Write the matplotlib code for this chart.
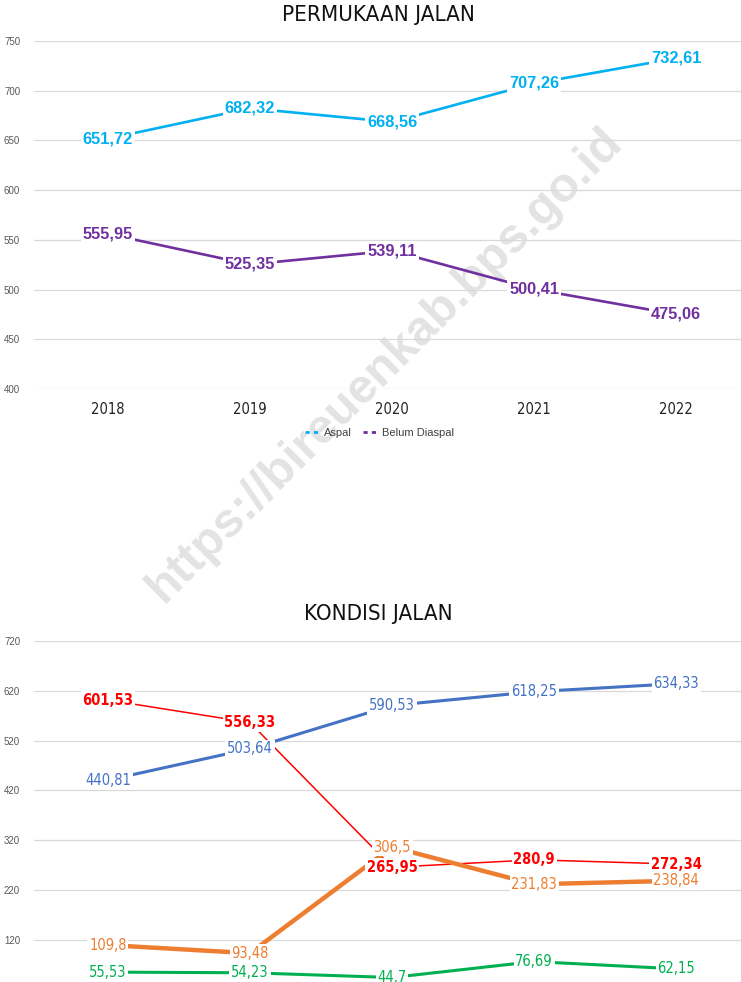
import matplotlib
matplotlib.use("Agg")
import matplotlib.pyplot as plt

years = ["2018", "2019", "2020", "2021", "2022"]
aspal = [651.72, 682.32, 668.56, 707.26, 732.61]
belum = [555.95, 525.35, 539.11, 500.41, 475.06]

baik = [440.81, 503.64, 590.53, 618.25, 634.33]
sedang = [601.53, 556.33, 265.95, 280.9, 272.34]
rusak = [109.8, 93.48, 306.5, 231.83, 238.84]
rusak_berat = [55.53, 54.23, 44.7, 76.69, 62.15]

top_ticks = [400, 450, 500, 550, 600, 650, 700, 750]
bot_ticks = [120, 220, 320, 420, 520, 620, 720]

NARROW = ["DejaVu Sans"]
SANS = ["Liberation Sans", "DejaVu Sans"]

def fmt(v):
    s = f"{v:.2f}".rstrip("0").rstrip(".")
    return s.replace(".", ",")

W, H = 741, 982
fig = plt.figure(figsize=(W / 100, H / 100), dpi=100)
fig.patch.set_facecolor("white")

def style_axes(ax, ticks):
    ax.set_facecolor("none")
    for sp in ax.spines.values():
        sp.set_visible(False)
    ax.set_yticks(ticks)
    ax.set_yticklabels([str(t) for t in ticks], fontsize=7, color="#595959",
                       family=SANS)
    ax.tick_params(axis="y", length=0, pad=10)
    ax.grid(axis="y", color="#d9d9d9", linewidth=0.9)
    ax.set_axisbelow(True)
    ax.set_xlim(-0.52, 4.456)

x = list(range(len(years)))

# ---------- Top chart ----------
left = 34 / W
width = (741 - 34) / W
ax1 = fig.add_axes([left, 1 - 389 / H, width, (389 - 41) / H])
style_axes(ax1, top_ticks)
ax1.set_ylim(400, 750)
ax1.set_xticks(x)
ax1.set_xticklabels(years, fontsize=10.5, family=NARROW, stretch="condensed",
                    color="#222222")
ax1.tick_params(axis="x", length=0, pad=9)

series_top = [(aspal, "#00B0F0", "Aspal"), (belum, "#7030A0", "Belum Diaspal")]
for vals, col, name in series_top:
    ax1.plot(x, vals, color=col, lw=1.9, label=name, zorder=3)
    for xi, v in zip(x, vals):
        ax1.text(xi, v, fmt(v), color=col, fontsize=11.8, fontweight="bold",
                 family=SANS, ha="center", va="center", zorder=5,
                 bbox=dict(boxstyle="square,pad=0.12", fc="white", ec="none"))

leg = ax1.legend(loc="upper center", bbox_to_anchor=(0.489, -0.083), ncol=2,
                 frameon=False, fontsize=8, handlelength=1.4,
                 columnspacing=1.0, handletextpad=0.3)
for line in leg.get_lines():
    line.set_linestyle((0, (1.5, 1.5)))
    line.set_linewidth(2)
for t in leg.get_texts():
    t.set_color("#404040")
    t.set_family(SANS)

fig.text(378 / W, 1 - 15 / H, "PERMUKAAN JALAN", ha="center", va="center",
         fontsize=16, family=NARROW, stretch="condensed", color="#111111")

# ---------- Bottom chart ----------
ax2 = fig.add_axes([left, 0, width, (982 - 641) / H])
style_axes(ax2, bot_ticks)
ax2.set_ylim(35.7, 720)
ax2.set_xticks([])

series_bot = [
    (baik, "#4472C4", 2.2, "normal"),
    (sedang, "#FF0000", 1.1, "bold"),
    (rusak, "#ED7D31", 3.2, "normal"),
    (rusak_berat, "#00B050", 2.2, "normal"),
]
for vals, col, lw, fw in series_bot:
    ax2.plot(x, vals, color=col, lw=lw, zorder=3, solid_capstyle="butt")
for vals, col, lw, fw in series_bot:
    for xi, v in zip(x, vals):
        ax2.text(xi, v, fmt(v), color=col, fontsize=10.5, fontweight=fw,
                 family=NARROW, stretch="condensed", ha="center", va="center",
                 zorder=5,
                 bbox=dict(boxstyle="square,pad=0.12", fc="white", ec="none"))

fig.text(378 / W, 1 - 614 / H, "KONDISI JALAN", ha="center", va="center",
         fontsize=16, family=NARROW, stretch="condensed", color="#111111")

# watermark
fig.text(385 / W, 1 - 365 / H, "https://bireuenkab.bps.go.id", rotation=45,
         ha="center", va="center", fontsize=35, fontweight="bold",
         family=SANS, color="#e3e3e3", zorder=-1)

fig.savefig("out.png", dpi=100, facecolor="white")
